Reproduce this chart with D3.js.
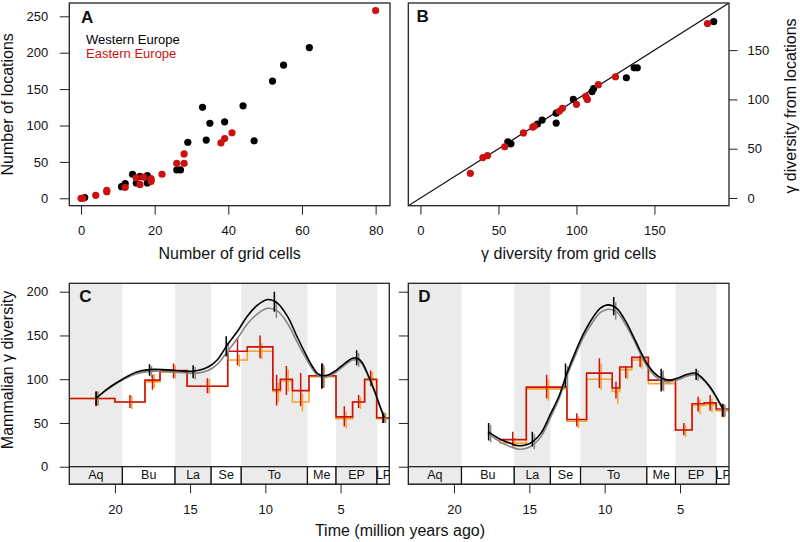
<!DOCTYPE html>
<html><head><meta charset="utf-8">
<script src="https://cdn.jsdelivr.net/npm/d3@7"></script>
<style>
body{margin:0;background:#fff}
svg{display:block}
text{font-family:"Liberation Sans",Arial,Helvetica,sans-serif}
</style>
</head><body>
<svg id="chart" width="800" height="542"></svg>
<script>
// ---------------- DATA ----------------
// Panel A: number of grid cells vs number of locations
const westGrid = [1, 11, 12, 14, 15, 16, 18, 18, 19, 26, 27, 29, 33, 34, 35, 39, 44, 47, 52, 55, 62];
const westLoc  = [1, 16, 20, 33, 21, 30, 31, 21, 25, 39, 39, 77, 125, 80, 103, 105, 127, 79, 161, 183, 207];
const eastGrid = [0, 0.5, 4, 7, 7, 12, 15, 16, 17, 19, 19, 22, 26, 28, 28, 38, 39, 41, 80];
const eastLoc  = [0, 0, 4, 9, 11, 15, 28, 19, 29, 27, 23, 33, 48, 48, 61, 76, 82, 90, 258];
// Panel B: gamma diversity from grid cells vs from locations
const westGammaGrid = [56, 58, 75, 78, 87, 87, 98, 110, 111, 132, 137, 139, 188];
const westGammaLoc  = [57, 55, 75, 79, 86, 76, 100, 108, 111, 122, 132, 132, 179];
const eastGammaGrid = [32, 40, 43, 54, 66, 72, 73, 89, 91, 100, 106, 107, 114, 125, 184];
const eastGammaLoc  = [25, 41, 43, 52, 66, 72, 73, 88, 91, 95, 103, 100, 115, 123, 177];

const aTicksX = [0, 20, 40, 60, 80];
const aTicksY = [0, 50, 100, 150, 200, 250];
const bTicks = [0, 50, 100, 150];
const divTicks = [0, 50, 100, 150, 200];
const timeTicks = [20, 15, 10, 5];

// Stages (Ma)
const stageNames  = ["Aq", "Bu", "La", "Se", "To", "Me", "EP", "LP"];
const stageStarts = [23.03, 19.5, 16.0, 13.6, 11.6, 7.2, 5.3, 2.58];
const stageEnds   = [19.5, 16.0, 13.6, 11.6, 7.2, 5.3, 2.58, 1.7];
const stageMid    = [21.25, 17.7, 14.8, 12.6, 9.4, 6.25, 3.93, 2.15];

// Fine time bins (Ma)
const binEdges = [23.03, 20.0, 18.0, 17.0, 15.2, 12.5, 11.2, 9.5, 9.0, 8.2, 7.1, 5.3, 4.2, 3.4, 2.6, 1.76];
const binMid   = [21.25, 19.0, 17.5, 16.1, 13.85, 11.85, 10.35, 9.25, 8.6, 7.65, 6.2, 4.75, 3.8, 3.0, 2.2];

// Panel C (Western Europe) binned diversity
const cRed      = [78, 74, 99, 110, 92, 132, 137, 88, 100, 87, 104, 57, 74, 100, 56];
const cRedLo    = [69, 67, 88, 101, 84, 116, 124, 70, 82, 69, 90, 46, 67, 92, 50];
const cRedHi    = [86, 82, 105, 118, 101, 147, 150, 105, 115, 107, 118, 69, 82, 110, 63];
const cOrange   = [78, 74, 97, 108, 92, 122, 132, 86, 98, 74, 103, 55, 74, 99, 55];
const cOrangeLo = [70, 66, 90, 101, 84, 114, 123, 74, 86, 63, 92, 44, 66, 90, 50];
const cOrangeHi = [86, 81, 106, 116, 100, 128, 141, 96, 111, 84, 113, 63, 80, 108, 62];
// Panel C stage-level smooth curves
const cCurveT = [21.25, 20.5, 19.5, 18.6, 17.7, 16.8, 16.0, 15.2, 14.5, 13.8, 13.2, 12.5, 11.8, 11.2, 10.5, 9.85, 9.2, 8.5, 7.9, 7.3, 6.85, 6.5, 6.2, 5.8, 5.3, 4.8, 4.2, 3.9, 3.6, 3.15, 2.75, 2.4, 2.1];
const cBlack  = [78, 89, 100, 108, 111, 111, 110, 109, 110, 114, 122, 140, 156, 172, 185, 191, 187, 171, 149, 128, 114, 106, 104, 105, 110, 117, 124, 124, 120, 104, 87, 70, 56];
const cGray   = [78, 88, 99, 106, 109, 109, 108, 107, 107, 110, 117, 132, 148, 163, 175, 181, 178, 163, 143, 124, 111, 104, 102, 103, 108, 115, 122, 122, 118, 103, 86, 70, 56];
const cBlackLo = [70, 104, 101, 126, 177, 89, 116, 50];
const cBlackHi = [86, 117, 116, 149, 200, 118, 133, 61];
const cGrayLo  = [70, 102, 100, 122, 170, 90, 114, 50];
const cGrayHi  = [86, 115, 114, 142, 190, 116, 130, 61];

// Panel D (Eastern Europe) binned diversity (first three bins empty)
const dRed      = [null, null, null, 31, 91, 54, 107, 90, 114, 125, 99, 42, 72, 73, 66];
const dRedLo    = [null, null, null, 23, 78, 46, 90, 78, 101, 114, 88, 36, 63, 64, 57];
const dRedHi    = [null, null, null, 40, 105, 61, 124, 97, 115, 127, 108, 50, 80, 82, 72];
const dOrange   = [null, null, null, 27, 89, 52, 100, 86, 111, 122, 95, 42, 70, 71, 64];
const dOrangeLo = [null, null, null, 20, 75, 44, 88, 72, 100, 112, 86, 34, 60, 62, 56];
const dOrangeHi = [null, null, null, 33, 100, 58, 118, 92, 113, 125, 104, 48, 77, 78, 70];
const dCurveT = [17.74, 17.0, 16.3, 15.7, 15.2, 14.75, 14.2, 13.6, 13.0, 12.5, 11.9, 11.4, 10.8, 10.3, 9.76, 9.2, 8.6, 8.1, 7.6, 7.2, 6.7, 6.2, 5.7, 5.2, 4.6, 4.0, 3.5, 3.0, 2.6, 2.15];
const dBlack  = [40, 32, 27, 24, 25, 29, 39, 60, 82, 107, 133, 152, 170, 181, 185, 181, 166, 149, 131, 118, 107, 101, 99, 101, 105, 107, 101, 91, 80, 66];
const dGray   = [38, 29, 23, 20, 21, 25, 35, 56, 79, 104, 129, 148, 165, 176, 180, 177, 162, 146, 128, 115, 104, 98, 97, 99, 103, 105, 100, 90, 79, 65];
const dBlackLo = [null, 30, 23, 91, 173, 86, 99, 57];
const dBlackHi = [null, 50, 40, 118, 194, 112, 112, 72];
const dGrayLo  = [null, 28, 20, 88, 168, 87, 98, 57];
const dGrayHi  = [null, 48, 37, 115, 188, 110, 110, 71];

// ---------------- STYLE ----------------
const RED = "#cc1111", ORANGE = "#f5a42c", GRAY = "#858585", BAND = "#ebebeb";
const FONT = '"Liberation Sans",Arial,Helvetica,sans-serif';

const svg = d3.select("#chart");

function styleAxis(g) {
  g.select(".domain").remove();
  g.attr("font-family", FONT).attr("font-size", 13);
  g.selectAll(".tick line").attr("stroke", "#222").attr("stroke-width", 1);
  g.selectAll(".tick text").attr("fill", "#111");
}
function drawBox(x0, x1, y0, y1) {
  svg.append("rect").attr("x", x0).attr("y", y0).attr("width", x1 - x0).attr("height", y1 - y0)
    .attr("fill", "none").attr("stroke", "#222").attr("stroke-width", 1.3);
}
function clip(id, x0, x1, y0, y1) {
  svg.append("clipPath").attr("id", id).append("rect")
    .attr("x", x0).attr("y", y0).attr("width", x1 - x0).attr("height", y1 - y0);
  return svg.append("g").attr("clip-path", `url(#${id})`);
}
function letter(t, x, y) {
  svg.append("text").attr("x", x).attr("y", y).text(t)
    .attr("font-size", 17).attr("font-weight", "bold").attr("fill", "#111");
}

// ---------------- PANEL A ----------------
{
  const x = d3.scaleLinear([-3.18, 83.9], [69.3, 390]);
  const y = d3.scaleLinear([-10.2, 268.3], [205.7, 3]);
  const g = clip("clipA", 69.3, 390, 3, 205.7);
  g.selectAll(".w").data(westGrid).join("circle")
    .attr("cx", (d) => x(d)).attr("cy", (d, i) => y(westLoc[i])).attr("r", 3.6).attr("fill", "#000");
  g.selectAll(".e").data(eastGrid).join("circle")
    .attr("cx", (d) => x(d)).attr("cy", (d, i) => y(eastLoc[i])).attr("r", 3.6).attr("fill", RED);
  drawBox(69.3, 390, 3, 205.7);
  svg.append("g").attr("transform", "translate(0,205.7)")
    .call(d3.axisBottom(x).tickValues(aTicksX).tickSize(9).tickPadding(11)).call(styleAxis);
  svg.append("g").attr("transform", "translate(69.3,0)")
    .call(d3.axisLeft(y).tickValues(aTicksY).tickSize(9.5).tickPadding(11.5)).call(styleAxis);
  letter("A", 81, 22.5);
  svg.append("text").attr("x", 86).attr("y", 44).text("Western Europe").attr("font-size", 13).attr("fill", "#000");
  svg.append("text").attr("x", 86).attr("y", 58).text("Eastern Europe").attr("font-size", 13).attr("fill", RED);
  svg.append("text").attr("x", 229.7).attr("y", 259).attr("text-anchor", "middle")
    .attr("font-size", 16).attr("fill", "#111").text("Number of grid cells");
  svg.append("text").attr("transform", "translate(13,104.3) rotate(-90)").attr("text-anchor", "middle")
    .attr("font-size", 16).attr("fill", "#111").text("Number of locations");
}

// ---------------- PANEL B ----------------
{
  const x = d3.scaleLinear([-7.8, 197.8], [408.3, 729]);
  const y = d3.scaleLinear([-7.8, 197.8], [205.7, 3]);
  const g = clip("clipB", 408.3, 729, 3, 205.7);
  g.append("line").attr("x1", x(-10)).attr("y1", y(-10)).attr("x2", x(200)).attr("y2", y(200))
    .attr("stroke", "#111").attr("stroke-width", 1.2);
  g.selectAll(".w").data(westGammaGrid).join("circle")
    .attr("cx", (d) => x(d)).attr("cy", (d, i) => y(westGammaLoc[i])).attr("r", 3.6).attr("fill", "#000");
  g.selectAll(".e").data(eastGammaGrid).join("circle")
    .attr("cx", (d) => x(d)).attr("cy", (d, i) => y(eastGammaLoc[i])).attr("r", 3.6).attr("fill", RED);
  drawBox(408.3, 729, 3, 205.7);
  svg.append("g").attr("transform", "translate(0,205.7)")
    .call(d3.axisBottom(x).tickValues(bTicks).tickSize(9).tickPadding(11)).call(styleAxis);
  svg.append("g").attr("transform", "translate(729,0)")
    .call(d3.axisRight(y).tickValues(bTicks).tickSize(8.5).tickPadding(10)).call(styleAxis);
  letter("B", 416.5, 22);
  svg.append("text").attr("x", 568.7).attr("y", 259).attr("text-anchor", "middle")
    .attr("font-size", 16).attr("fill", "#111").text("γ diversity from grid cells");
  svg.append("text").attr("transform", "translate(796,106) rotate(-90)").attr("text-anchor", "middle")
    .attr("font-size", 16).attr("fill", "#111").text("γ diversity from locations");
}

// ---------------- PANELS C & D ----------------
function timePanel(id, x0, x1, tEnd, red, redLo, redHi, orange, orangeLo, orangeHi,
                   curveT, black, gray, blackLo, blackHi, grayLo, grayHi, showLabels, name) {
  const top = 283.3, stripTop = 466.7, bottom = 484.3;
  const x = d3.scaleLinear([23.03, tEnd], [x0, x1]);
  const y = d3.scaleLinear([-20.1, 209.6], [bottom, top]);
  const g = clip("clip" + id, x0, x1, top, bottom);
  // background bands
  stageNames.forEach((s, i) => {
    if (i % 2 === 0) {
      g.append("rect").attr("x", x(stageStarts[i])).attr("width", x(stageEnds[i]) - x(stageStarts[i]))
        .attr("y", top).attr("height", stripTop - top).attr("fill", BAND);
    }
  });
  // step lines
  function steps(vals) {
    const pts = [];
    vals.forEach((v, i) => { if (v !== null) pts.push([binEdges[i], v]); });
    const lastI = vals.length - 1;
    pts.push([binEdges[lastI + 1], vals[lastI]]);
    return pts;
  }
  const stepLine = d3.line().x((d) => x(d[0])).y((d) => y(d[1])).curve(d3.curveStepAfter);
  function bars(pos, lo, hi, color, dx, w) {
    pos.forEach((t, i) => {
      if (lo[i] === null || lo[i] === undefined) return;
      g.append("line").attr("x1", x(t) + dx).attr("x2", x(t) + dx)
        .attr("y1", y(lo[i])).attr("y2", y(hi[i])).attr("stroke", color).attr("stroke-width", w);
    });
  }
  g.append("path").attr("d", stepLine(steps(orange))).attr("fill", "none").attr("stroke", ORANGE).attr("stroke-width", 1.6);
  bars(binMid, orangeLo, orangeHi, ORANGE, 1.8, 1.5);
  g.append("path").attr("d", stepLine(steps(red))).attr("fill", "none").attr("stroke", RED).attr("stroke-width", 1.6);
  bars(binMid, redLo, redHi, RED, 0, 1.5);
  // smooth curves
  const cl = d3.line().x((d, i) => x(curveT[i])).y((d) => y(d)).curve(d3.curveCatmullRom.alpha(0.5));
  g.append("path").attr("d", cl(gray)).attr("fill", "none").attr("stroke", GRAY).attr("stroke-width", 1.6);
  bars(stageMid, grayLo, grayHi, GRAY, 2, 1.5);
  g.append("path").attr("d", cl(black)).attr("fill", "none").attr("stroke", "#000").attr("stroke-width", 1.6);
  bars(stageMid, blackLo, blackHi, "#000", 0, 1.5);
  // stage strip
  stageNames.forEach((s, i) => {
    const xa = x(stageStarts[i]), xb = x(stageEnds[i]);
    g.append("rect").attr("x", xa).attr("width", xb - xa).attr("y", stripTop).attr("height", bottom - stripTop)
      .attr("fill", i % 2 === 0 ? BAND : "#fff").attr("stroke", "#111").attr("stroke-width", 1.2);
    g.append("text").attr("x", (xa + xb) / 2).attr("y", stripTop + 12.6).attr("text-anchor", "middle")
      .attr("font-size", 12.5).attr("fill", "#111").text(s);
  });
  drawBox(x0, x1, top, bottom);
  svg.append("g").attr("transform", `translate(0,${bottom})`)
    .call(d3.axisBottom(x).tickValues(timeTicks).tickSize(9).tickPadding(11)).call(styleAxis);
  const ya = d3.axisLeft(y).tickValues(divTicks).tickSize(9.5).tickPadding(11.5);
  if (!showLabels) ya.tickFormat(() => "");
  svg.append("g").attr("transform", `translate(${x0},0)`).call(ya).call(styleAxis);
  letter(name, x0 + 10, 301.7);
}

timePanel("C", 69.3, 389.3, 1.76, cRed, cRedLo, cRedHi, cOrange, cOrangeLo, cOrangeHi,
  cCurveT, cBlack, cGray, cBlackLo, cBlackHi, cGrayLo, cGrayHi, true, "C");
timePanel("D", 408.3, 729, 1.75, dRed, dRedLo, dRedHi, dOrange, dOrangeLo, dOrangeHi,
  dCurveT, dBlack, dGray, dBlackLo, dBlackHi, dGrayLo, dGrayHi, false, "D");

svg.append("text").attr("transform", "translate(13,370) rotate(-90)").attr("text-anchor", "middle")
  .attr("font-size", 16).attr("fill", "#111").text("Mammalian γ diversity");
svg.append("text").attr("x", 400).attr("y", 536).attr("text-anchor", "middle")
  .attr("font-size", 16).attr("fill", "#111").text("Time (million years ago)");
</script>
</body></html>
